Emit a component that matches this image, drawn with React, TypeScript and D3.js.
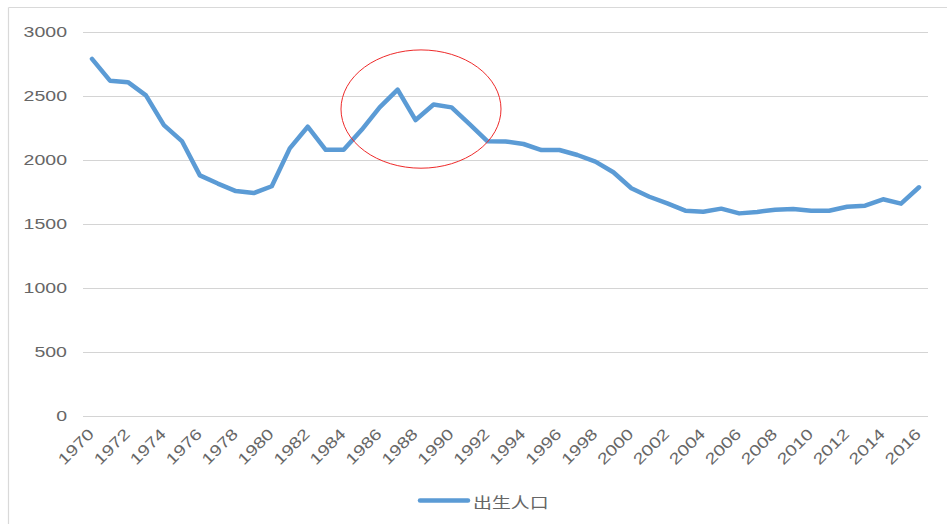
import React from "react";
import * as d3 from "d3";

const years: number[] = [
  1970, 1971, 1972, 1973, 1974, 1975, 1976, 1977, 1978, 1979,
  1980, 1981, 1982, 1983, 1984, 1985, 1986, 1987, 1988, 1989,
  1990, 1991, 1992, 1993, 1994, 1995, 1996, 1997, 1998, 1999,
  2000, 2001, 2002, 2003, 2004, 2005, 2006, 2007, 2008, 2009,
  2010, 2011, 2012, 2013, 2014, 2015, 2016,
];
const births: number[] = [
  2790, 2620, 2608, 2505, 2273, 2148, 1880, 1816, 1757, 1742,
  1795, 2091, 2260, 2080, 2080, 2236, 2411, 2550, 2312, 2433,
  2411, 2281, 2146, 2145, 2125, 2078, 2078, 2039, 1987, 1904,
  1779, 1713, 1661, 1604, 1596, 1620, 1583, 1594, 1612, 1618,
  1604, 1604, 1635, 1643, 1693, 1659, 1787,
];
const yTicks: number[] = [0, 500, 1000, 1500, 2000, 2500, 3000];
const xTickYears: number[] = years.filter((y) => (y - 1970) % 2 === 0);
const seriesName = "出生人口";
// highlighted region annotation (center year/value and half-extents)
const highlightCenter = { year: 1988.3, value: 2398 };
const highlightHalf = { years: 4.45, value: 462 };

const W = 947;
const H = 524;

export default function App() {
  const x = d3.scaleLinear().domain([1969.5, 2016.5]).range([83, 928]);
  const y = d3.scaleLinear().domain([0, 3000]).range([416, 32]);
  const line = d3
    .line<number>()
    .x((_, i) => x(years[i]))
    .y((d) => y(d));

  const font = "'Liberation Sans', Arial, sans-serif";
  const grey = "#666666";
  const sx = 1.26;

  const ecx = x(highlightCenter.year);
  const ecy = y(highlightCenter.value);
  const erx = x(highlightCenter.year + highlightHalf.years) - ecx;
  const ery = ecy - y(highlightCenter.value + highlightHalf.value);

  return (
    <svg
      width={W}
      height={H}
      style={{ position: "absolute", left: 0, top: 0, display: "block", background: "#fff" }}
    >
      <rect x={0} y={0} width={W} height={H} fill="#fff" />
      {/* chart border */}
      <line x1={8.5} y1={7.5} x2={W} y2={7.5} stroke="#d9d9d9" strokeWidth={1.2} />
      <line x1={8.5} y1={7.5} x2={8.5} y2={H} stroke="#d9d9d9" strokeWidth={1.2} />

      {/* gridlines */}
      {yTicks.map((t) => (
        <line
          key={"g" + t}
          x1={83}
          x2={928}
          y1={Math.round(y(t)) + 0.5}
          y2={Math.round(y(t)) + 0.5}
          stroke="#d4d4d4"
          strokeWidth={1}
        />
      ))}

      {/* y tick labels */}
      {yTicks.map((t) => (
        <text
          key={"yl" + t}
          transform={`translate(67,${y(t)}) scale(${sx},1)`}
          textAnchor="end"
          dominantBaseline="central"
          fontFamily={font}
          fontSize={15.5}
          fill={grey}
        >
          {t}
        </text>
      ))}

      {/* x tick labels */}
      {xTickYears.map((yr) => (
        <text
          key={"xl" + yr}
          transform={`translate(${x(yr) + 3},${435}) rotate(-45) scale(${sx},1)`}
          textAnchor="end"
          fontFamily={font}
          fontSize={15.5}
          fill={grey}
        >
          {yr}
        </text>
      ))}

      {/* data line */}
      <path
        d={line(births) || ""}
        fill="none"
        stroke="#5B9BD5"
        strokeWidth={4.5}
        strokeLinejoin="round"
        strokeLinecap="round"
      />

      {/* highlight ellipse */}
      <ellipse cx={ecx} cy={ecy} rx={erx} ry={ery} fill="none" stroke="#ee2a2a" strokeWidth={1} />

      {/* legend */}
      <line x1={420} x2={468} y1={500.5} y2={500.5} stroke="#5B9BD5" strokeWidth={4.5} strokeLinecap="round" />
      <text
        transform={`translate(473,501) scale(${sx},1)`}
        dominantBaseline="central"
        fontFamily="'Noto Sans CJK SC', sans-serif"
        fontSize={15}
        fill={grey}
      >
        {seriesName}
      </text>
    </svg>
  );
}
